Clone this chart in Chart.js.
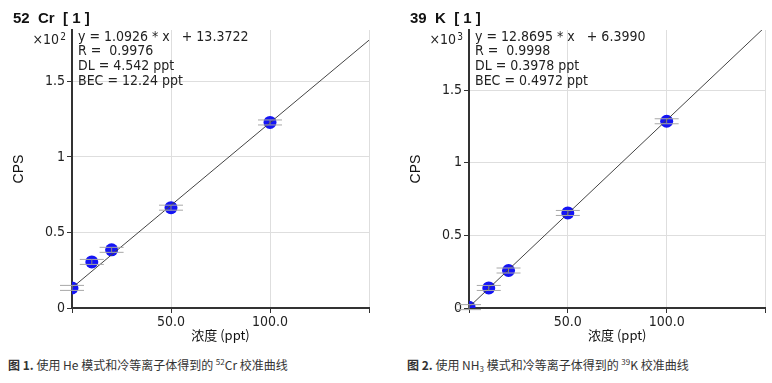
<!DOCTYPE html>
<html>
<head>
<meta charset="utf-8">
<script src="https://cdn.jsdelivr.net/npm/chart.js@4.4.1/dist/chart.umd.min.js"></script>
<style>
  body { margin: 0; background: #fff; width: 772px; height: 383px; position: relative; overflow: hidden; }
  canvas { position: absolute; top: 0; }
  #chartCr { left: 0; }
  #chartK { left: 390px; }
  .cap { position: absolute; top: 356px; font: 12px "Noto Sans CJK SC", "Noto Sans", sans-serif; color: #333; white-space: nowrap; }
  .cap b { font-weight: bold; }
  .cap sup { font-size: 8px; vertical-align: 5px; }
  .cap sub { font-size: 8px; vertical-align: -2px; }
</style>
</head>
<body>
<canvas id="chartCr" width="380" height="345"></canvas>
<canvas id="chartK" width="382" height="345"></canvas>
<div class="cap" style="left:8px"><b>图 1.</b> 使用 He 模式和冷等离子体得到的 <sup>52</sup>Cr 校准曲线</div>
<div class="cap" style="left:407px"><b>图 2.</b> 使用 NH<sub>3</sub> 模式和冷等离子体得到的 <sup>39</sup>K 校准曲线</div>
<script>
  // 52Cr calibration (CPS, x10^2 shown on axis)
  const crConc = [0, 10, 20, 50, 100];
  const crCps = [13.3, 30.5, 38.5, 66.4, 122.8];
  const crFitX = [0, 150];
  const crFitY = [13.37, 177.26];
  const crYTicks = [0, 50, 100, 150];
  const crText = ['y = 1.0926 * x   + 13.3722', 'R =  0.9976', 'DL = 4.542 ppt', 'BEC = 12.24 ppt'];

  // 39K calibration (CPS, x10^3 shown on axis)
  const kConc = [0, 10, 20, 50, 100];
  const kCps = [6, 138, 258, 654, 1285];
  const kFitX = [0, 150];
  const kFitY = [6.40, 1936.8];
  const kYTicks = [0, 500, 1000, 1500];
  const kText = ['y = 12.8695 * x   + 6.3990', 'R =  0.9998', 'DL = 0.3978 ppt', 'BEC = 0.4972 ppt'];

  const xTicks = [0, 50, 100, 150];
  const xLabels = [50, 100];
  const tickFont = { family: '"Liberation Sans Narrow", "DejaVu Sans Condensed", "Liberation Sans", sans-serif', size: 14 };

  function toPoints(xs, ys) {
    let pts = [];
    for (let i = 0; i < xs.length; i++) {
      pts.push({ x: xs[i], y: ys[i] });
    }
    return pts;
  }

  function makeChart(id, cfg) {
    let textPlugin = {
      id: 'texts',
      afterDatasetsDraw(chart) {
        let ctx = chart.ctx;
        // little gray replicate bars over each point
        let meta = chart.getDatasetMeta(1);
        ctx.save();
        ctx.lineWidth = 1;
        meta.data.forEach(function (p) {
          ctx.strokeStyle = '#a8a8a8';
          ctx.beginPath();
          ctx.moveTo(p.x - 12, p.y - 2.5); ctx.lineTo(p.x + 12, p.y - 2.5);
          ctx.moveTo(p.x - 12, p.y + 2.5); ctx.lineTo(p.x + 12, p.y + 2.5);
          ctx.stroke();
          ctx.strokeStyle = '#888';
          ctx.beginPath();
          ctx.moveTo(p.x, p.y - 2.5); ctx.lineTo(p.x, p.y + 2.5);
          ctx.stroke();
        });
        ctx.restore();
      },
      afterDraw(chart) {
        let ctx = chart.ctx;
        let area = chart.chartArea;
        ctx.save();
        ctx.fillStyle = '#111';
        ctx.font = 'bold 15px "Liberation Sans", sans-serif';
        ctx.textBaseline = 'middle';
        ctx.fillText(cfg.title, cfg.titleX, 19);
        ctx.font = '14px ' + tickFont.family;
        ctx.fillStyle = '#222';
        for (let i = 0; i < cfg.text.length; i++) {
          ctx.fillText(cfg.text[i], area.left + 6, area.top + 7 + i * 14.8);
        }
        ctx.textAlign = 'right';
        ctx.fillText('\u00d710', area.left - 13, area.top + 10);
        ctx.font = '10px ' + tickFont.family;
        ctx.fillText(cfg.exp, area.left - 6, area.top + 7);
        ctx.restore();
      }
    };

    return new Chart(document.getElementById(id), {
      type: 'scatter',
      data: {
        datasets: [{
          data: toPoints(cfg.fitX, cfg.fitY),
          showLine: true,
          borderColor: '#444',
          borderWidth: 1,
          pointRadius: 0
        }, {
          data: toPoints(cfg.conc, cfg.cps),
          backgroundColor: '#1414f5',
          borderColor: '#1414f5',
          pointRadius: 6.5,
          pointBorderWidth: 0
        }]
      },
      options: {
        responsive: false,
        animation: false,
        events: [],
        layout: { padding: { left: 0, right: cfg.padRight, top: 30, bottom: 0 } },
        plugins: { legend: { display: false }, tooltip: { enabled: false } },
        scales: {
          x: {
            type: 'linear',
            min: 0,
            max: 150,
            afterBuildTicks(scale) { scale.ticks = xTicks.map(v => ({ value: v })); },
            afterFit(scale) { scale.height = 37; },
            border: { color: '#333', width: 2 },
            grid: { color: '#dedede', tickColor: '#333', tickLength: 5 },
            ticks: {
              padding: 1,
              color: '#222',
              font: tickFont,
              maxRotation: 0,
              autoSkip: false,
              callback: function (v) { return xLabels.indexOf(v) >= 0 ? v.toFixed(1) : ''; }
            },
            title: { display: true, text: '浓度 (ppt)', color: '#111', font: { family: '"Noto Sans CJK SC", sans-serif', size: 13 }, padding: { top: 0, bottom: 2 } }
          },
          y: {
            type: 'linear',
            min: 0,
            max: cfg.yMax,
            afterBuildTicks(scale) { scale.ticks = cfg.yTicks.map(v => ({ value: v })); },
            afterFit(scale) { scale.width = cfg.yWidth; },
            border: { color: '#333', width: 2 },
            grid: { color: '#dedede', tickColor: '#333', tickLength: 5 },
            ticks: {
              padding: 2,
              color: '#222',
              font: tickFont,
              autoSkip: false,
              callback: function (v) { return String(v / cfg.div); }
            },
            title: { display: true, text: 'CPS', color: '#111', font: { family: '"Liberation Sans", sans-serif', size: 14 }, padding: { top: cfg.titlePad, bottom: 0 } }
          }
        }
      },
      plugins: [textPlugin]
    });
  }

  makeChart('chartCr', {
    conc: crConc, cps: crCps, fitX: crFitX, fitY: crFitY, text: crText, yTicks: crYTicks,
    title: '52  Cr  [ 1 ]', titleX: 13, exp: '2',
    yMax: 184, div: 100, yWidth: 72, padRight: 11, titlePad: 11
  });
  makeChart('chartK', {
    conc: kConc, cps: kCps, fitX: kFitX, fitY: kFitY, text: kText, yTicks: kYTicks,
    title: '39  K  [ 1 ]', titleX: 20, exp: '3',
    yMax: 1913, div: 1000, yWidth: 79, padRight: 4, titlePad: 18
  });
</script>
</body>
</html>
